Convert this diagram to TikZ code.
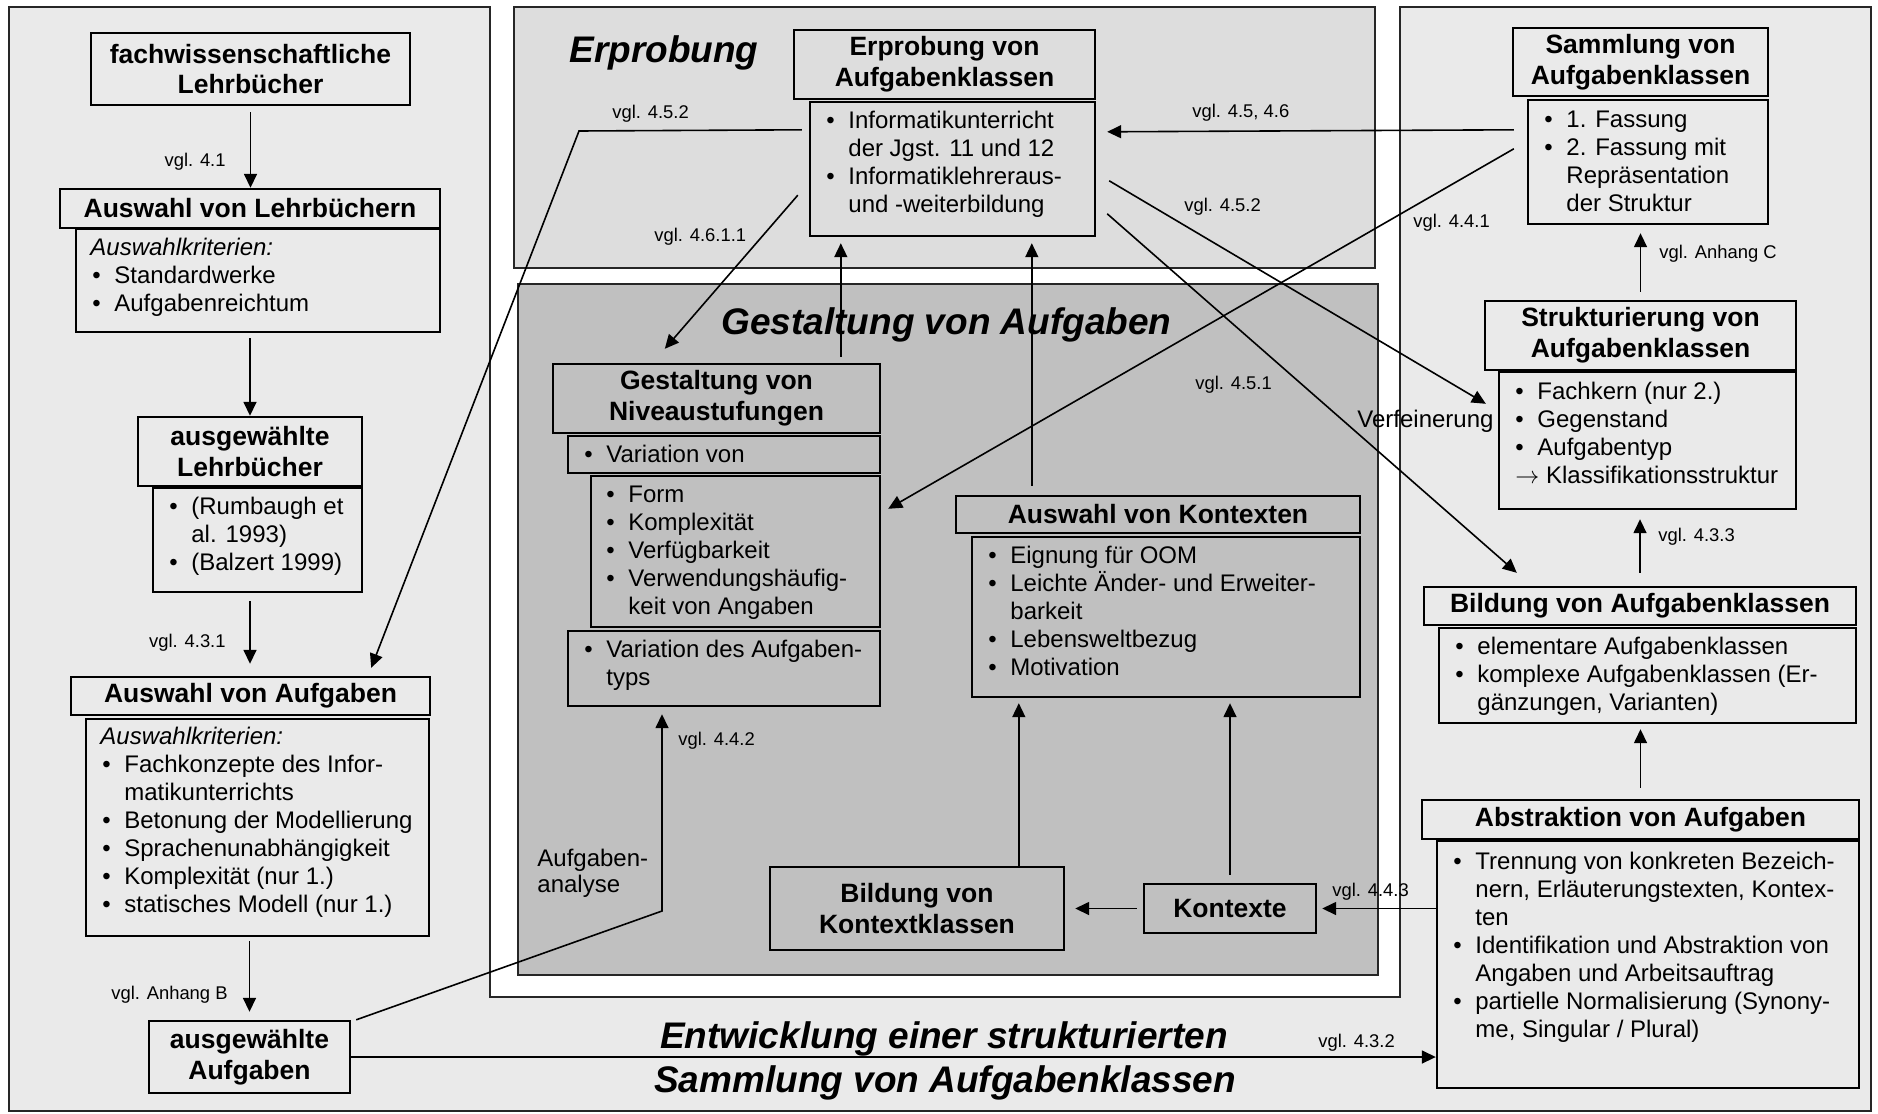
\documentclass[tikz,border=0pt]{standalone}
\usepackage{fontspec}
\setmainfont{Liberation Sans}
\usetikzlibrary{arrows.meta,calc,fit,shadows}

\definecolor{panel}{HTML}{EAEAEA}
\definecolor{erpfill}{HTML}{DDDDDD}
\definecolor{gesfill}{HTML}{C0C0C0}

\newcommand{\hfont}{\fontsize{13.25pt}{15.3pt}\selectfont\bfseries}
\newcommand{\bfnt}{\fontsize{12pt}{14pt}\selectfont}
\newcommand{\vfnt}{\fontsize{9.2pt}{11pt}\selectfont}
\newcommand{\itm}{\textbullet}
\newcommand{\blist}[1]{\begin{tabular}{@{}p{11pt}@{}l@{}}#1\end{tabular}}
\newcommand{\wide}[1]{\multicolumn{2}{@{}l@{}}{#1}}

\tikzset{
  frame/.style={draw=black, line width=1.2pt, inner sep=0pt,
    drop shadow={shadow xshift=0.7pt, shadow yshift=-0.7pt, opacity=1, fill=black}},
  onpanel/.style={frame, fill=panel},
  onerp/.style={frame, fill=erpfill},
  onges/.style={frame, fill=gesfill},
  headtext/.style={align=center, font=\hfont, inner sep=0pt},
  listtext/.style={anchor=north west, inner sep=0pt, font=\bfnt},
  ref/.style={font=\vfnt, inner sep=0pt},
  conn/.style={line width=0.8pt, -{Triangle[length=7pt,width=6.5pt]}},
  title/.style={font=\fontsize{18.5pt}{22pt}\selectfont\bfseries\itshape, inner sep=0pt},
  panelframe/.style={draw=black!85, line width=1pt, inner sep=0pt},
}

\begin{document}
\begin{tikzpicture}[x=0.5pt,y=-0.5pt]
\useasboundingbox (0,0) rectangle (1878,1113);
\fill[white] (0,0) rectangle (1878,1113);

% background panels
\path[fill=panel, panelframe] (9,7) -- (490,7) -- (490,997) -- (1400,997) -- (1400,7)
  -- (1871,7) -- (1871,1111) -- (9,1111) -- cycle;
\node[panelframe, fill=erpfill, fit={(514,7) (1375,268)}] (erpPanel) {};
\node[panelframe, fill=gesfill, fit={(518,284) (1378,975)}] (gesPanel) {};

% titles
\node[title, anchor=base west] (tErp) at (569,63) {Erprobung};
\node[title, anchor=base west] (tGes) at (721,334) {Gestaltung von Aufgaben};
\node[title, anchor=base] (tEnt1) at (944,1048) {Entwicklung einer strukturierten};
\node[title, anchor=base] (tEnt2) at (945,1092) {Sammlung von Aufgabenklassen};

% left column
\node[onpanel, fit={(91,33) (410,105)}] (fach) {};
\node[headtext] (fachT) at (fach.center) {fachwissenschaftliche\\Lehrbücher};
\node[onpanel, fit={(60,189) (440,228)}] (lbAuswahl) {};
\node[headtext] (lbAuswahlT) at (lbAuswahl.center) {Auswahl von Lehrbüchern};
\node[onpanel, fit={(76,229) (440,332)}] (lbCrit) {};
\node[listtext] (lbCritT) at (92,235.5) {\blist{\wide{\hspace{-1pt}\itshape Auswahlkriterien:}\\ \itm & Standardwerke\\ \itm & Aufgabenreichtum}};

\node[onpanel, fit={(138,417) (362,486)}] (lbAusgew) {};
\node[headtext] (lbAusgewT) at (lbAusgew.center) {ausgewählte\\Lehrbücher};
\node[onpanel, fit={(153,488) (362,592)}] (lbList) {};
\node[listtext] (lbListT) at (169,494.5) {\blist{\itm & (Rumbaugh et\\ & al. 1993)\\ \itm & (Balzert 1999)}};

\node[onpanel, fit={(71,677) (430,715)}] (afAuswahl) {};
\node[headtext] (afAuswahlT) at (afAuswahl.center) {Auswahl von Aufgaben};
\node[onpanel, fit={(86,719) (429,936)}] (afCrit) {};
\node[listtext] (afCritT) at (102,724) {\blist{\wide{\hspace{-1pt}\itshape Auswahlkriterien:}\\
  \itm & Fachkonzepte des Infor-\\ & matikunterrichts\\ \itm & Betonung der Modellierung\\
  \itm & Sprachenunabhängigkeit\\ \itm & Komplexität (nur 1.)\\ \itm & statisches Modell (nur 1.)}};

\node[onpanel, fit={(149,1021) (350,1093)}] (afAusgew) {};
\node[headtext] (afAusgewT) at (afAusgew.center) {ausgewählte\\Aufgaben};

% Erprobung
\node[onerp, fit={(794,30) (1095,99)}] (erpHead) {};
\node[headtext] (erpHeadT) at (erpHead.center) {Erprobung von\\Aufgabenklassen};
\node[onerp, fit={(810,102) (1095,236)}] (erpList) {};
\node[listtext] (erpListT) at (826,108.5) {\blist{\itm & Informatikunterricht\\ & der Jgst. 11 und 12\\ \itm & Informatiklehreraus-\\ & und -weiterbildung}};

% Gestaltung
\node[onges, fit={(553,364) (880,433)}] (nivHead) {};
\node[headtext] (nivHeadT) at (nivHead.center) {Gestaltung von\\Niveaustufungen};
\node[onges, fit={(568,436) (880,473)}] (varVon) {};
\node[listtext] (varVonT) at (584,442.5) {\blist{\itm & Variation von}};
\node[onges, fit={(591,476) (880,627)}] (varSub) {};
\node[listtext] (varSubT) at (606,482.5) {\blist{\itm & Form\\ \itm & Komplexität\\ \itm & Verfügbarkeit\\ \itm & Verwendungshäufig-\\ & keit von Angaben}};
\node[onges, fit={(568,631) (880,706)}] (varTyp) {};
\node[listtext] (varTypT) at (584,637.5) {\blist{\itm & Variation des Aufgaben-\\ & typs}};

\node[onges, fit={(956,496) (1360,533)}] (kontHead) {};
\node[headtext] (kontHeadT) at (kontHead.center) {Auswahl von Kontexten};
\node[onges, fit={(972,537) (1360,697)}] (kontList) {};
\node[listtext] (kontListT) at (988,543.5) {\blist{\itm & Eignung für OOM\\ \itm & Leichte Änder- und Erweiter-\\ & barkeit\\ \itm & Lebensweltbezug\\ \itm & Motivation}};
\node[onges, fit={(770,867) (1064,950)}] (kkBox) {};
\node[headtext] (kkBoxT) at (kkBox.center) {Bildung von\\Kontextklassen};
\node[onges, fit={(1144,884) (1316,933)}] (kontexte) {};
\node[headtext] (kontexteT) at (kontexte.center) {Kontexte};

% right column
\node[onpanel, fit={(1513,28) (1768,96)}] (samHead) {};
\node[headtext] (samHeadT) at (samHead.center) {Sammlung von\\Aufgabenklassen};
\node[onpanel, fit={(1528,100) (1768,224)}] (samList) {};
\node[listtext] (samListT) at (1544,107) {\blist{\itm & 1. Fassung\\ \itm & 2. Fassung mit\\ & Repräsentation\\ & der Struktur}};
\node[onpanel, fit={(1485,301) (1796,370)}] (strHead) {};
\node[headtext] (strHeadT) at (strHead.center) {Strukturierung von\\Aufgabenklassen};
\node[onpanel, fit={(1499,372) (1796,509)}] (strList) {};
\node[listtext] (strListT) at (1515,379) {\blist{\itm & Fachkern (nur 2.)\\ \itm & Gegenstand\\ \itm & Aufgabentyp\\ \wide{$\rightarrow$ Klassifikationsstruktur}}};
\node[onpanel, fit={(1424,587) (1856,625)}] (bakHead) {};
\node[headtext] (bakHeadT) at (bakHead.center) {Bildung von Aufgabenklassen};
\node[onpanel, fit={(1439,628) (1856,723)}] (bakList) {};
\node[listtext] (bakListT) at (1455,634.5) {\blist{\itm & elementare Aufgabenklassen\\ \itm & komplexe Aufgabenklassen (Er-\\ & gänzungen, Varianten)}};
\node[onpanel, fit={(1422,800) (1859,839)}] (absHead) {};
\node[headtext] (absHeadT) at (absHead.center) {Abstraktion von Aufgaben};
\node[onpanel, fit={(1437,841) (1859,1088)}] (absList) {};
\node[listtext] (absListT) at (1453,849) {\blist{\itm & Trennung von konkreten Bezeich-\\ & nern, Erläuterungstexten, Kontex-\\ & ten\\
  \itm & Identifikation und Abstraktion von\\ & Angaben und Arbeitsauftrag\\
  \itm & partielle Normalisierung (Synony-\\ & me, Singular / Plural)}};

% connectors of the left column
\draw[conn, shorten <=3pt] (fach.south) -- (fach.south |- lbAuswahl.north);
\node[ref, anchor=base east] (r41) at (226,166) {vgl. 4.1};
\draw[conn, shorten <=2.5pt] (lbCrit.south -| lbAusgew.north) -- (lbAusgew.north);
\draw[conn, shorten <=4pt, shorten >=6pt] (lbList.south -| lbAusgew.north) -- (lbAusgew.north |- afAuswahl.north);
\node[ref, anchor=base east] (r431) at (226,647) {vgl. 4.3.1};
\draw[conn, shorten <=2pt, shorten >=4pt] (afCrit.south -| afAusgew.north) -- (afAusgew.north);
\node[ref, anchor=base east] (rAnhB) at (228,999) {vgl. Anhang B};
\draw[conn] (afAusgew.east) -- (afAusgew.east -| absList.west);
\node[ref, anchor=base west] (r432) at (1318,1047) {vgl. 4.3.2};

% task analysis
\coordinate (kAna) at (662,911);
\draw[conn, shorten >=3.5pt] ($(afAusgew.north east)+(5,0)$) -- (kAna) -- (kAna |- varTyp.south);
\node[ref, anchor=base west] (r442) at (678,745) {vgl. 4.4.2};
\node[anchor=base west, inner sep=0pt, font=\fontsize{12pt}{13pt}\selectfont] (lAna) at (537,866)
  {\begin{tabular}[t]{@{}l@{}}Aufgaben-\\analyse\end{tabular}};

% connectors around the trial block
\coordinate (k452) at (579,131);
\draw[conn] ($(erpList.north west)+(-7,29)$) -- (k452) -- ($(afAuswahl.north east)+(-60,-8)$);
\node[ref, anchor=base west] (r452a) at (612,119) {vgl. 4.5.2};
\draw[conn] ($(erpList.south west)+(-11,-42)$) -- ($(nivHead.north west)+(113,-14)$);
\node[ref, anchor=base west] (r4611) at (654,241) {vgl. 4.6.1.1};
\draw[conn, shorten >=3pt] ($(nivHead.north west)+(289,-6)$) -- ($(erpList.south west)+(32,0)$);
\draw[conn, shorten >=3pt] ($(kontHead.north west)+(77,-9)$) -- ($(erpList.south west)+(223,0)$);
\draw[conn] ($(samList.north west)+(-13,31)$) -- ($(erpList.north east)+(11,31)$);
\node[ref, anchor=base west] (r4546) at (1192,118) {vgl. 4.5, 4.6};
\draw[conn] ($(samList.north west)+(-13,50)$) -- ($(varSub.north east)+(7,34)$);
\node[ref, anchor=base west] (r441) at (1413,227) {vgl. 4.4.1};
\draw[conn] ($(erpList.north east)+(13,80)$) -- ($(strList.north west)+(-12,33)$);
\node[font=\bfnt, anchor=base west, inner sep=0pt] (lVerf) at (1357,427) {Verfeinerung};
\draw[conn] ($(erpList.north east)+(11,113)$) -- ($(bakHead.north west)+(94,-13)$);
\node[ref, anchor=base west] (r452b) at (1184,211) {vgl. 4.5.2};
\node[ref, anchor=base west] (r451) at (1195,389) {vgl. 4.5.1};

% connectors of the right column
\draw[conn, shorten <=4pt, shorten >=4pt] (strHead.north) -- (strHead.north |- samList.south);
\node[ref, anchor=base west] (rAnhC) at (1659,258) {vgl. Anhang C};
\draw[conn, shorten <=6.5pt, shorten >=4.5pt] (bakHead.north) -- (bakHead.north |- strList.south);
\node[ref, anchor=base west] (r433) at (1658,541) {vgl. 4.3.3};
\draw[conn, shorten <=5.5pt, shorten >=2.5pt] (absHead.north) -- (absHead.north |- bakList.south);

% contexts
\draw[conn, shorten >=2.5pt] (kontexte.east -| absList.west) -- (kontexte.east);
\node[ref, anchor=base west] (r443) at (1332,896) {vgl. 4.4.3};
\draw[conn, shorten <=3pt, shorten >=5pt] (kontexte.west) -- (kontexte.west -| kkBox.east);
\coordinate (kk1) at ($(kkBox.north west)+(250,0)$);
\draw[conn, shorten >=2.5pt] (kk1) -- (kk1 |- kontList.south);
\draw[conn, shorten <=4pt, shorten >=2.5pt] (kontexte.north) -- (kontexte.north |- kontList.south);
\end{tikzpicture}
\end{document}
